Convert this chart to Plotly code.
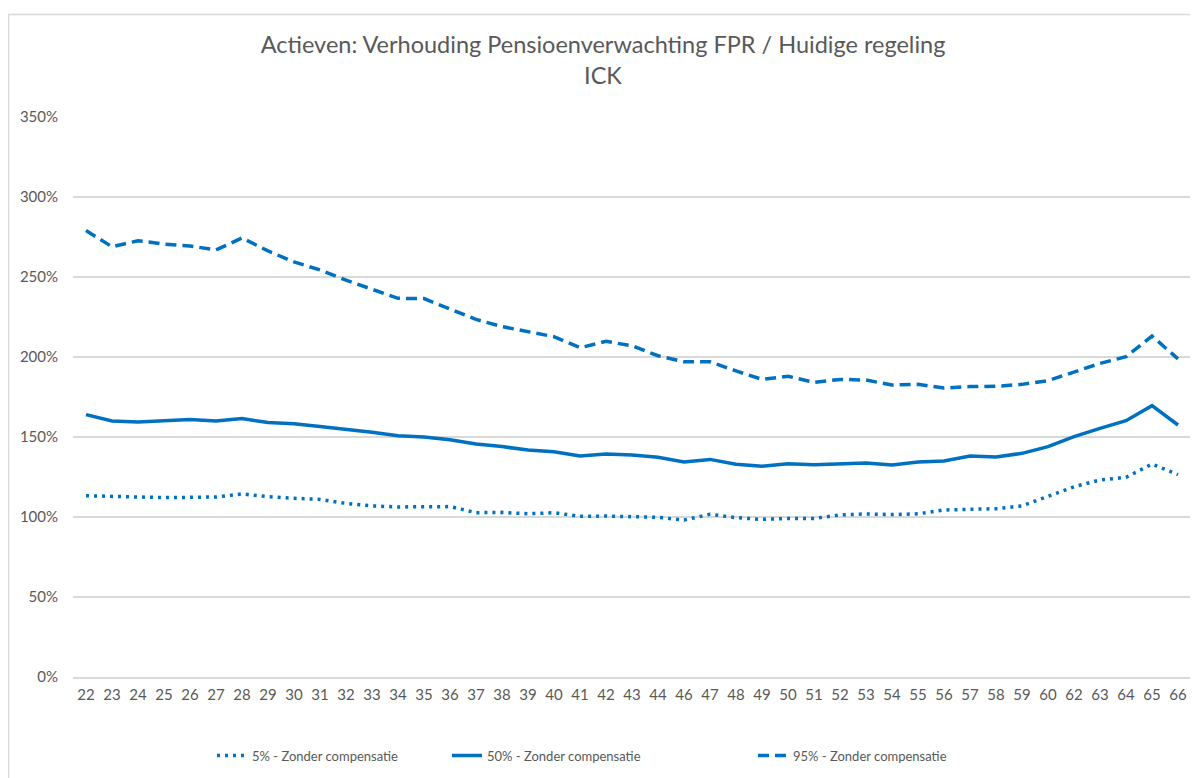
import plotly.graph_objects as go

ages = [str(a) for a in list(range(22, 45)) + list(range(46, 61)) + list(range(62, 67))]

p5 = [113.3, 112.7, 112.5, 112.1, 112.5, 112.5, 114.4, 112.7, 111.7, 111.0,
      108.5, 106.9, 106.3, 106.3, 106.5, 102.7, 102.9, 102.0, 102.7, 100.4,
      100.6, 100.2, 99.8, 98.1, 101.7, 99.6, 98.5, 99.1, 99.1, 101.3,
      101.9, 101.5, 102.0, 104.4, 104.6, 105.2, 106.9, 112.7, 118.9, 123.1,
      124.8, 133.1, 126.5]

p50 = [164.0, 160.0, 159.4, 160.0, 161.0, 160.0, 161.5, 159.0, 158.3, 156.5,
       154.8, 153.0, 150.8, 150.0, 148.3, 145.6, 144.0, 141.9, 140.8, 138.1,
       139.4, 138.8, 137.3, 134.4, 136.0, 133.0, 131.7, 133.3, 132.7, 133.3,
       133.8, 132.5, 134.4, 135.0, 138.1, 137.5, 139.8, 144.0, 150.2, 155.4,
       160.2, 169.6, 157.5]

p95 = [279.0, 268.9, 272.7, 270.6, 269.4, 266.9, 274.4, 266.3, 259.4, 254.4,
       248.0, 242.5, 236.7, 236.5, 230.0, 223.5, 219.0, 215.8, 212.7, 205.8,
       209.8, 207.0, 200.8, 197.0, 197.0, 191.3, 186.0, 188.0, 184.2, 186.0,
       185.6, 182.5, 182.9, 180.6, 181.5, 181.7, 182.9, 185.2, 190.8, 196.0,
       200.2, 213.1, 198.8]

names = ["5% - Zonder compensatie", "50% - Zonder compensatie", "95% - Zonder compensatie"]
ytick_vals = [0, 50, 100, 150, 200, 250, 300, 350]
ytick_text = ["0%", "50%", "100%", "150%", "200%", "250%", "300%", "350%"]

BLUE = "#0070C0"
GRAY = "#595959"
GRID = "#D9D9D9"
FONT = "Lato"

# page body has an 8px margin; figure is sized so it fills the window
OFF = 8
W, H = 1198 - OFF, 778 - OFF
L, R, T, B = 73 - OFF, 7, 117 - OFF, 98
pw, ph = W - L - R, H - T - B


def px_x(x):  # reference-screen x -> paper
    return (x - OFF - L) / pw


def px_y(y):  # reference-screen y -> paper
    return (H - B - (y - OFF)) / ph


fig = go.Figure()
fig.add_trace(go.Scatter(x=ages, y=p5, name=names[0], mode="lines", legend="legend",
                         line=dict(color=BLUE, width=3.5, dash="3px,5px")))
fig.add_trace(go.Scatter(x=ages, y=p50, name=names[1], mode="lines", legend="legend2",
                         line=dict(color=BLUE, width=3.5)))
fig.add_trace(go.Scatter(x=ages, y=p95, name=names[2], mode="lines", legend="legend3",
                         line=dict(color=BLUE, width=3.5, dash="11px,6px")))

leg_common = dict(orientation="h", xanchor="left", yanchor="middle", y=px_y(759),
                  font=dict(size=13, color=GRAY, family=FONT), bgcolor="rgba(0,0,0,0)")

fig.update_layout(
    width=W, height=H,
    margin=dict(l=L, r=R, t=T, b=B),
    paper_bgcolor="white", plot_bgcolor="white",
    font=dict(family=FONT, color=GRAY, size=15),
    title=dict(text="Actieven: Verhouding Pensioenverwachting FPR / Huidige regeling<br>ICK",
               x=0.5, xanchor="center", y=1 - (53 - OFF) / H, yanchor="middle",
               font=dict(family=FONT, size=23.5, color=GRAY)),
    xaxis=dict(type="category", range=[-0.5, len(ages) - 0.5],
               showgrid=False, showline=True, linecolor=GRID,
               linewidth=1.5, ticks="", tickfont=dict(size=15, color=GRAY),
               tickangle=0, ticklabelstandoff=3),
    yaxis=dict(range=[0, 350], tickvals=ytick_vals, ticktext=ytick_text,
               showgrid=True, gridcolor=GRID, gridwidth=1.5, zeroline=False,
               showline=False, tickfont=dict(size=15, color=GRAY),
               ticklabelstandoff=14),
    legend=dict(x=px_x(208 + 4), **leg_common),
    legend2=dict(x=px_x(437 + 10), **leg_common),
    legend3=dict(x=px_x(745 + 8), **leg_common),
    showlegend=True,
)

# chart area border (left and top edges visible)
fig.add_shape(type="line", xref="paper", yref="paper",
              x0=px_x(8), x1=px_x(1220), y0=px_y(14), y1=px_y(14),
              line=dict(color=GRID, width=1.5))
fig.add_shape(type="line", xref="paper", yref="paper",
              x0=px_x(8.5), x1=px_x(8.5), y0=px_y(14), y1=px_y(800),
              line=dict(color=GRID, width=1.5))

fig.write_html("out.html")
